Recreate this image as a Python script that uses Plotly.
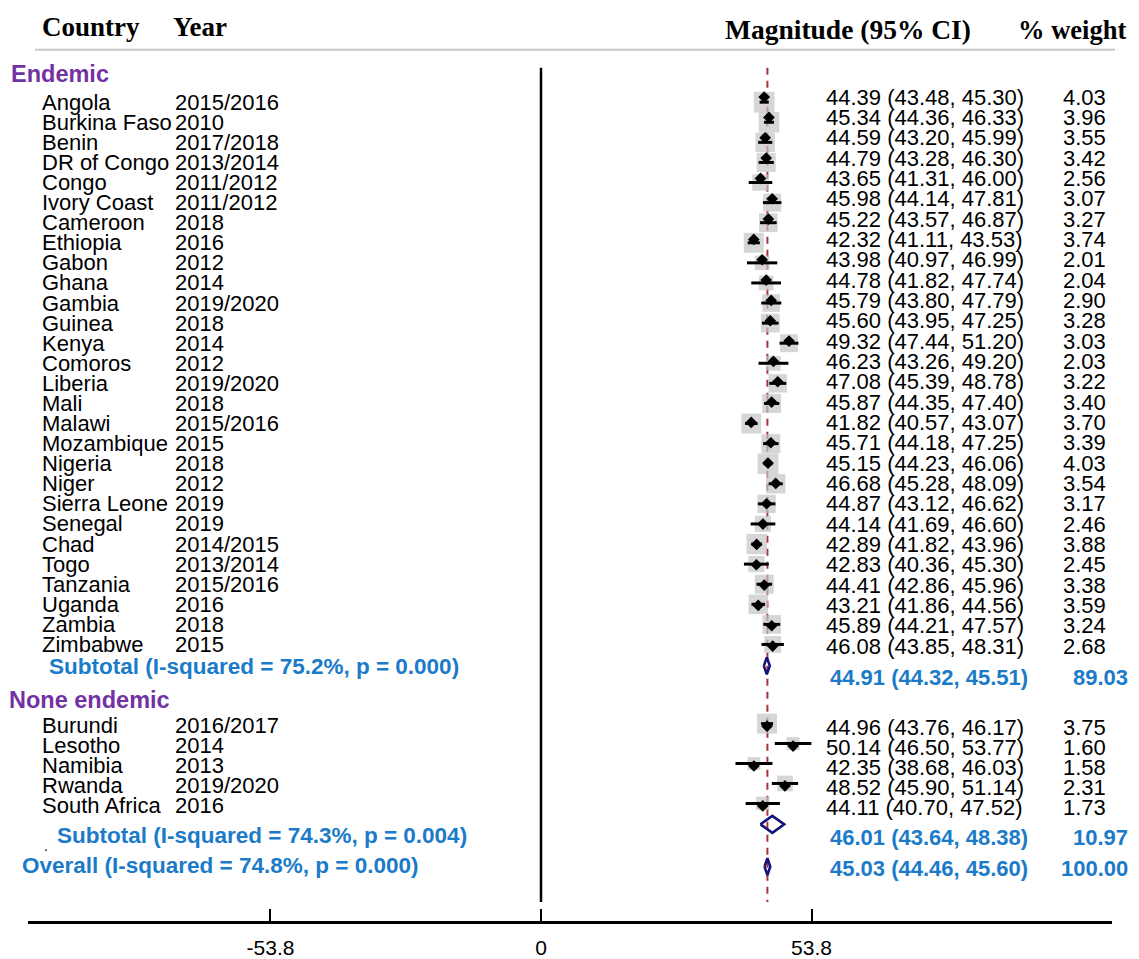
import plotly.graph_objects as go

# ---------------- data ----------------
countries_end = ["Angola", "Burkina Faso", "Benin", "DR of Congo", "Congo", "Ivory Coast",
                 "Cameroon", "Ethiopia", "Gabon", "Ghana", "Gambia", "Guinea", "Kenya",
                 "Comoros", "Liberia", "Mali", "Malawi", "Mozambique", "Nigeria", "Niger",
                 "Sierra Leone", "Senegal", "Chad", "Togo", "Tanzania", "Uganda", "Zambia",
                 "Zimbabwe"]
years_end = ["2015/2016", "2010", "2017/2018", "2013/2014", "2011/2012", "2011/2012",
             "2018", "2016", "2012", "2014", "2019/2020", "2018", "2014", "2012",
             "2019/2020", "2018", "2015/2016", "2015", "2018", "2012", "2019", "2019",
             "2014/2015", "2013/2014", "2015/2016", "2016", "2018", "2015"]
est_end = [44.39, 45.34, 44.59, 44.79, 43.65, 45.98, 45.22, 42.32, 43.98, 44.78, 45.79,
           45.60, 49.32, 46.23, 47.08, 45.87, 41.82, 45.71, 45.15, 46.68, 44.87, 44.14,
           42.89, 42.83, 44.41, 43.21, 45.89, 46.08]
lo_end = [43.48, 44.36, 43.20, 43.28, 41.31, 44.14, 43.57, 41.11, 40.97, 41.82, 43.80,
          43.95, 47.44, 43.26, 45.39, 44.35, 40.57, 44.18, 44.23, 45.28, 43.12, 41.69,
          41.82, 40.36, 42.86, 41.86, 44.21, 43.85]
hi_end = [45.30, 46.33, 45.99, 46.30, 46.00, 47.81, 46.87, 43.53, 46.99, 47.74, 47.79,
          47.25, 51.20, 49.20, 48.78, 47.40, 43.07, 47.25, 46.06, 48.09, 46.62, 46.60,
          43.96, 45.30, 45.96, 44.56, 47.57, 48.31]
wt_end = [4.03, 3.96, 3.55, 3.42, 2.56, 3.07, 3.27, 3.74, 2.01, 2.04, 2.90, 3.28, 3.03,
          2.03, 3.22, 3.40, 3.70, 3.39, 4.03, 3.54, 3.17, 2.46, 3.88, 2.45, 3.38, 3.59,
          3.24, 2.68]

countries_non = ["Burundi", "Lesotho", "Namibia", "Rwanda", "South Africa"]
years_non = ["2016/2017", "2014", "2013", "2019/2020", "2016"]
est_non = [44.96, 50.14, 42.35, 48.52, 44.11]
lo_non = [43.76, 46.50, 38.68, 45.90, 40.70]
hi_non = [46.17, 53.77, 46.03, 51.14, 47.52]
wt_non = [3.75, 1.60, 1.58, 2.31, 1.73]

# subtotal / overall: estimate, lower, upper, weight, I-squared, p
summary_names = ["Subtotal", "Subtotal", "Overall"]
summary_est = [44.91, 46.01, 45.03]
summary_lo = [44.32, 43.64, 44.46]
summary_hi = [45.51, 48.38, 45.60]
summary_wt = [89.03, 10.97, 100.00]
summary_i2 = [75.2, 74.3, 74.8]
summary_p = [0.000, 0.004, 0.000]

group_names = ["Endemic", "None endemic"]
tick_vals = [-53.8, 0, 53.8]
tick_text = ["-53.8", "0", "53.8"]

# ---------------- layout helpers ----------------
# the page places the figure 8px from the window's top-left corner
OFF = 8
WIN_W, WIN_H = 1139, 959
W, H = WIN_W - OFF, WIN_H - OFF
PLOT_L, PLOT_R, AXIS_Y = 28, 1112, 924        # window pixel coordinates
ZERO_PX, PX_PER_UNIT = 541, 5.028
x_range = [(PLOT_L - ZERO_PX) / PX_PER_UNIT, (PLOT_R - ZERO_PX) / PX_PER_UNIT]


def xp(px):
    return (px - PLOT_L) / (PLOT_R - PLOT_L)


n1, n2 = len(countries_end), len(countries_non)
# vertical positions in window pixels (y axis measured downward from top)
box_y1 = [102.5 + 20.15 * i for i in range(n1)]
val_y1 = [97.4 + 20.4 * i for i in range(n1)]
box_y2 = [726.0 + 20.0 * i for i in range(n2)]
val_y2 = [729.8 + 20.0 * i for i in range(n2)]
lab_y2 = [727.5 + 20.1 * i for i in range(n2)]
mark_y2 = [728.5 + 20.0 * i for i in range(n2)]
sum_diam_y = [668, 827, 869.5]
sum_lab_y = [669, 838, 868]
sum_val_y = [679.5, 840, 871]
sum_lab_px = [49, 57, 22]
group_y = [74, 702]
group_px = [11, 9]

SANS = "Liberation Sans, Arial, Helvetica, sans-serif"
SERIF = "Liberation Serif, Times New Roman, serif"
BLUE = "#1b7bc9"
PURPLE = "#7232a3"
NAVY = "#14147a"
RED = "#a8323a"
GRAY = "#c4c4c4"

est_all = est_end + est_non
lo_all = lo_end + lo_non
hi_all = hi_end + hi_non
wt_all = wt_end + wt_non
box_y = box_y1 + box_y2
mark_y = val_y1 + mark_y2

fig = go.Figure()

# weight boxes
fig.add_trace(go.Scatter(
    x=est_all, y=box_y, mode="markers", hoverinfo="skip",
    marker=dict(symbol="square", color=GRAY,
                size=[10.3 * w ** 0.5 for w in wt_all], line=dict(width=0)),
))

# CI lines
cx, cy = [], []
for lo, hi, y in zip(lo_all, hi_all, box_y):
    cx += [lo, hi, None]
    cy += [y, y, None]
fig.add_trace(go.Scatter(x=cx, y=cy, mode="lines", hoverinfo="skip",
                         line=dict(color="black", width=3)))

# point estimates
fig.add_trace(go.Scatter(
    x=est_all, y=mark_y, mode="markers", hoverinfo="skip",
    marker=dict(symbol="diamond", color="black", size=9, line=dict(width=0)),
))

# summary diamonds
dx, dy = [], []
HALF = 8.5
for e, lo, hi, y in zip(summary_est, summary_lo, summary_hi, sum_diam_y):
    dx += [lo, e, hi, e, lo, None]
    dy += [y, y - HALF, y, y + HALF, y, None]
fig.add_trace(go.Scatter(x=dx, y=dy, mode="lines", hoverinfo="skip",
                         line=dict(color=NAVY, width=2.6)))

shapes = []
# null line
shapes.append(dict(type="line", xref="x", yref="y", x0=0, x1=0, y0=68, y1=905,
                   line=dict(color="black", width=2.5)))
# overall effect line
shapes.append(dict(type="line", xref="x", yref="y", x0=summary_est[2], x1=summary_est[2],
                   y0=68, y1=905, line=dict(color=RED, width=2, dash="7px,6px"), layer="below"))
# header rule
shapes.append(dict(type="line", xref="paper", yref="y", x0=xp(35), x1=xp(1115), y0=50, y1=50,
                   line=dict(color="#c8c8c8", width=2)))

ann = []
TEXT_PAD = 2  # compensate annotation box padding


def text(px, y, s, size=22, color="black", bold=False, family=SANS, anchor="left"):
    if bold:
        s = "<b>" + s + "</b>"
    px = px - TEXT_PAD if anchor == "left" else px + TEXT_PAD
    ann.append(dict(x=xp(px), y=y, xref="paper", yref="y", text=s, showarrow=False,
                    xanchor=anchor, yanchor="middle",
                    font=dict(family=family, size=size, color=color)))


# headers
text(42, 27, "Country", size=27, bold=True, family=SERIF)
text(173, 27, "Year", size=27, bold=True, family=SERIF)
text(725, 30, "Magnitude (95% CI)", size=27.5, bold=True, family=SERIF)
text(1126, 30, "% weight", size=26.5, bold=True, family=SERIF, anchor="right")

# group headers
for g, y, px in zip(group_names, group_y, group_px):
    text(px, y, g, size=23.5, color=PURPLE, bold=True)

# study rows
lab_y = box_y1 + lab_y2
val_y = val_y1 + val_y2
for c, yr, e, lo, hi, w, ly, vy in zip(countries_end + countries_non, years_end + years_non,
                                         est_all, lo_all, hi_all, wt_all, lab_y, val_y):
    text(42, ly, c, size=22)
    text(175, ly, yr, size=22)
    text(826, vy, f"{e:.2f} ({lo:.2f}, {hi:.2f})", size=22)
    text(1063, vy, f"{w:.2f}", size=22)

# summary rows
for name, e, lo, hi, w, i2, p, ly, vy, lpx in zip(summary_names, summary_est, summary_lo,
                                                    summary_hi, summary_wt, summary_i2,
                                                    summary_p, sum_lab_y, sum_val_y, sum_lab_px):
    text(lpx, ly, f"{name} (I-squared = {i2:.1f}%, p = {p:.3f})", size=22.5, color=BLUE, bold=True)
    text(830, vy, f"{e:.2f} ({lo:.2f}, {hi:.2f})", size=22, color=BLUE, bold=True)
    text(1128, vy, f"{w:.2f}", size=22, color=BLUE, bold=True, anchor="right")

# stray dot printed below the second subtotal in the original
text(44, 849, ".", size=14)

fig.update_layout(
    width=W, height=H,
    margin=dict(l=PLOT_L - OFF, r=WIN_W - PLOT_R, t=0, b=WIN_H - AXIS_Y),
    paper_bgcolor="white", plot_bgcolor="white",
    showlegend=False,
    shapes=shapes, annotations=ann,
    xaxis=dict(range=x_range, tickvals=tick_vals, ticktext=tick_text,
               ticks="inside", ticklen=12, tickwidth=2, tickcolor="black",
               showline=True, linecolor="black", linewidth=2.5,
               showgrid=False, zeroline=False, ticklabelstandoff=6,
               tickfont=dict(family=SANS, size=21, color="black"), fixedrange=True),
    yaxis=dict(range=[AXIS_Y, OFF], visible=False, fixedrange=True),
)

fig.write_html("out.html")
